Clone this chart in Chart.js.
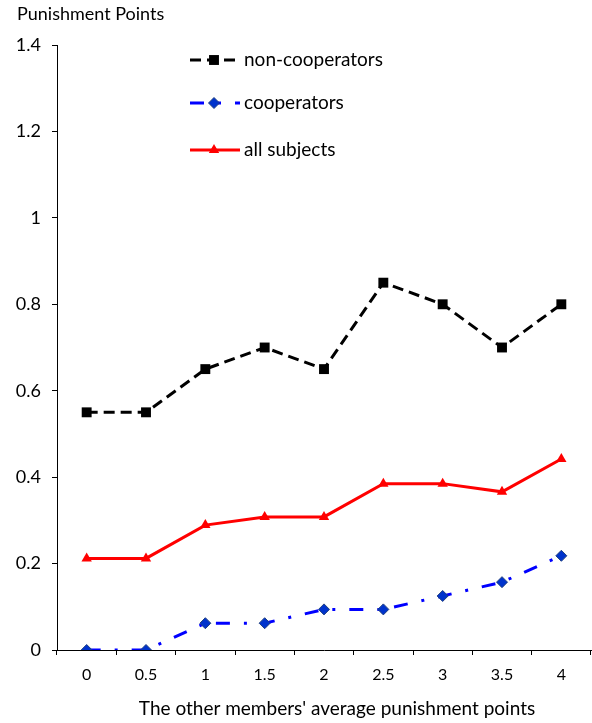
<!DOCTYPE html>
<html>
<head>
<meta charset="utf-8">
<script src="https://cdn.jsdelivr.net/npm/chart.js@4.4.0/dist/chart.umd.min.js"></script>
<style>
  html, body { margin: 0; padding: 0; background: #fff; overflow: hidden; }
  #wrap { width: 592px; height: 723px; }
  canvas { display: block; }
</style>
</head>
<body>
<div id="wrap"><canvas id="myChart"></canvas></div>
<script>
const xLabels = ['0', '0.5', '1', '1.5', '2', '2.5', '3', '3.5', '4'];
const nonCooperators = [0.55, 0.55, 0.65, 0.70, 0.65, 0.85, 0.80, 0.70, 0.80];
const cooperators = [0, 0, 0.062, 0.062, 0.094, 0.094, 0.125, 0.157, 0.218];
const allSubjects = [0.212, 0.212, 0.289, 0.308, 0.308, 0.385, 0.385, 0.366, 0.442];
const yTicks = [0, 0.2, 0.4, 0.6, 0.8, 1, 1.2, 1.4];

const FONT = 'Lato, "Open Sans", sans-serif';

// legend drawn inside the plot, plus the axis titles
const extras = {
  id: 'extras',
  afterDraw(chart) {
    const ctx = chart.ctx;
    ctx.save();
    ctx.fillStyle = '#000';
    ctx.font = '18px ' + FONT;
    ctx.textBaseline = 'middle';
    ctx.textAlign = 'left';
    ctx.fillText('Punishment Points', 17, 14);

    ctx.font = '19px ' + FONT;
    ctx.textAlign = 'center';
    ctx.fillText("The other members' average punishment points", 337, 709);
    ctx.textAlign = 'left';

    const rows = [60, 103, 150];
    chart.data.datasets.forEach((ds, i) => {
      const y = rows[i];
      ctx.save();
      ctx.strokeStyle = ds.borderColor;
      ctx.lineWidth = ds.borderWidth;
      ctx.setLineDash(ds.borderDash || []);
      ctx.beginPath();
      ctx.moveTo(190, y);
      ctx.lineTo(240, y);
      ctx.stroke();
      ctx.restore();
      ctx.fillStyle = ds.pointBackgroundColor;
      ctx.strokeStyle = ds.pointBorderColor;
      ctx.lineWidth = ds.pointBorderWidth;
      Chart.helpers.drawPoint(ctx, {pointStyle: ds.pointStyle, radius: ds.pointRadius, rotation: 0, borderWidth: ds.pointBorderWidth}, 214, y);
      ctx.fillStyle = '#000';
      ctx.font = '19px ' + FONT;
      ctx.fillText(ds.label, 244, y);
    });
    ctx.restore();
  }
};

new Chart('myChart', {
  type: 'line',
  data: {
    labels: xLabels,
    datasets: [{
      label: 'non-cooperators',
      data: nonCooperators,
      borderColor: '#000',
      borderWidth: 3,
      borderDash: [11, 6],
      pointStyle: 'rect',
      pointRadius: 7,
      pointBorderWidth: 0,
      pointBackgroundColor: '#000',
      pointBorderColor: '#000',
      fill: false
    }, {
      label: 'cooperators',
      data: cooperators,
      borderColor: '#0000ff',
      borderWidth: 3,
      borderDash: [14, 14, 3, 14],
      pointStyle: 'rectRot',
      pointRadius: 5.5,
      pointBorderWidth: 1,
      pointBackgroundColor: '#0033cc',
      pointBorderColor: '#1f3f7f',
      fill: false
    }, {
      label: 'all subjects',
      data: allSubjects,
      borderColor: '#ff0000',
      borderWidth: 3,
      pointStyle: 'triangle',
      pointRadius: 6,
      pointBorderWidth: 0,
      pointBackgroundColor: '#ff0000',
      pointBorderColor: '#ff0000',
      fill: false
    }]
  },
  options: {
    responsive: true,
    maintainAspectRatio: false,
    animation: false,
    layout: {autoPadding: false, padding: {top: 45, right: 1, left: 0, bottom: 0}},
    plugins: {
      legend: {display: false},
      tooltip: {enabled: false}
    },
    scales: {
      x: {
        type: 'category',
        offset: true,
        grid: {display: true, offset: true, drawOnChartArea: false, drawTicks: true, tickLength: 5, color: '#000'},
        border: {color: '#000', width: 1},
        ticks: {color: '#000', font: {family: FONT, size: 16}, padding: 10, maxRotation: 0},
        afterFit: (s) => { s.height = 73; s.paddingLeft = 0; s.paddingRight = 0; }
      },
      y: {
        min: 0,
        max: 1.4,
        afterBuildTicks: (s) => { s.ticks = yTicks.map(v => ({value: v})); },
        grid: {display: true, drawOnChartArea: false, drawTicks: true, tickLength: 5, color: '#000'},
        border: {color: '#000', width: 1},
        ticks: {color: '#000', font: {family: FONT, size: 18}, padding: 11, callback: (v) => String(v)},
        afterFit: (s) => { s.width = 57; }
      }
    }
  },
  plugins: [extras]
});
</script>
</body>
</html>
